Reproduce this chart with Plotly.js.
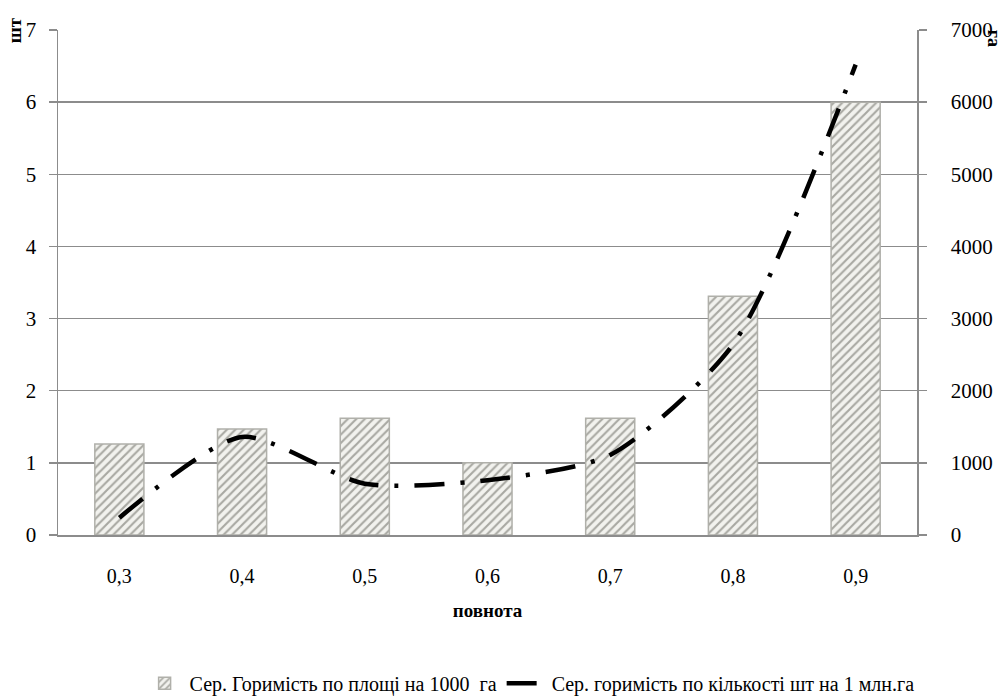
<!DOCTYPE html>
<html>
<head>
<meta charset="utf-8">
<script src="https://cdn.plot.ly/plotly-3.0.1.min.js"></script>
<style>html,body{margin:0;padding:0;background:#fff;}#chart{width:1008px;height:700px;}</style>
</head>
<body>
<div id="chart"></div>
<script>
const categories = ["0,3", "0,4", "0,5", "0,6", "0,7", "0,8", "0,9"];
const areaRate = [1.26, 1.47, 1.62, 1.0, 1.62, 3.31, 6.0];
const countRate = [240, 1360, 710, 760, 1110, 2640, 6520];
const barName = "Сер. Горимість по площі на 1000  га";
const lineName = "Сер. горимість по кількості шт на 1 млн.га";

const FONT = "'Liberation Serif', 'Times New Roman', Times, serif";

const traces = [
  {
    type: "bar",
    x: categories,
    y: areaRate,
    name: barName,
    width: 0.4,
    marker: {
      color: "#f0f0ec",
      line: {color: "#b0b0aa", width: 1.5},
      pattern: {shape: "/", fgcolor: "#a8a8a2", bgcolor: "#f2f2ee", size: 6, solidity: 0.35}
    },
    yaxis: "y"
  },
  {
    type: "scatter",
    mode: "lines",
    x: categories,
    y: countRate,
    name: lineName,
    line: {color: "#000", width: 4.5, dash: "30px,16px,4px,16px", shape: "spline", smoothing: 0.7},
    yaxis: "y2"
  }
];

const layout = {
  width: 1008,
  height: 700,
  margin: {l: 58, r: 91, t: 30, b: 165, autoexpand: false},
  paper_bgcolor: "#fff",
  plot_bgcolor: "#fff",
  font: {family: FONT, size: 19, color: "#000"},
  showlegend: true,
  legend: {
    orientation: "h",
    xref: "paper",
    x: 0.095, xanchor: "left",
    yref: "container",
    y: 0.024, yanchor: "middle",
    font: {family: FONT, size: 20, color: "#000"},
    itemwidth: 40,
    tracegroupgap: 0
  },
  xaxis: {
    type: "category",
    automargin: false,
    showgrid: false,
    showline: true,
    linecolor: "#8c8c8c",
    linewidth: 1.5,
    ticks: "",
    ticklabelstandoff: 22,
    tickfont: {family: FONT, size: 20},
    title: {text: "<b>повнота</b>", font: {family: FONT, size: 19}, standoff: 18}
  },
  yaxis: {
    automargin: false,
    range: [0, 7],
    dtick: 1,
    showgrid: true,
    gridcolor: "#8c8c8c",
    gridwidth: 1.5,
    showline: true,
    linecolor: "#8c8c8c",
    linewidth: 1.5,
    ticks: "outside",
    ticklen: 8,
    tickcolor: "#8c8c8c",
    tickwidth: 1.5,
    ticklabelstandoff: 8,
    zeroline: false,
    tickfont: {family: FONT, size: 21}
  },
  yaxis2: {
    automargin: false,
    overlaying: "y",
    side: "right",
    range: [0, 7000],
    dtick: 1000,
    showgrid: false,
    showline: true,
    linecolor: "#8c8c8c",
    linewidth: 1.5,
    ticks: "outside",
    ticklen: 8,
    tickcolor: "#8c8c8c",
    tickwidth: 1.5,
    ticklabelstandoff: 20,
    zeroline: false,
    tickfont: {family: FONT, size: 21}
  },
  annotations: [
    {xref: "paper", yref: "paper", x: -0.051, y: 1.0, xanchor: "center", yanchor: "middle",
     text: "<b>шт</b>", textangle: -90, showarrow: false, font: {family: FONT, size: 19}},
    {xref: "paper", yref: "paper", x: 1.09, y: 0.984, xanchor: "center", yanchor: "middle",
     text: "<b>га</b>", textangle: 90, showarrow: false, font: {family: FONT, size: 18}}
  ]
};

Plotly.newPlot("chart", traces, layout, {displayModeBar: false, staticPlot: true});
</script>
</body>
</html>
